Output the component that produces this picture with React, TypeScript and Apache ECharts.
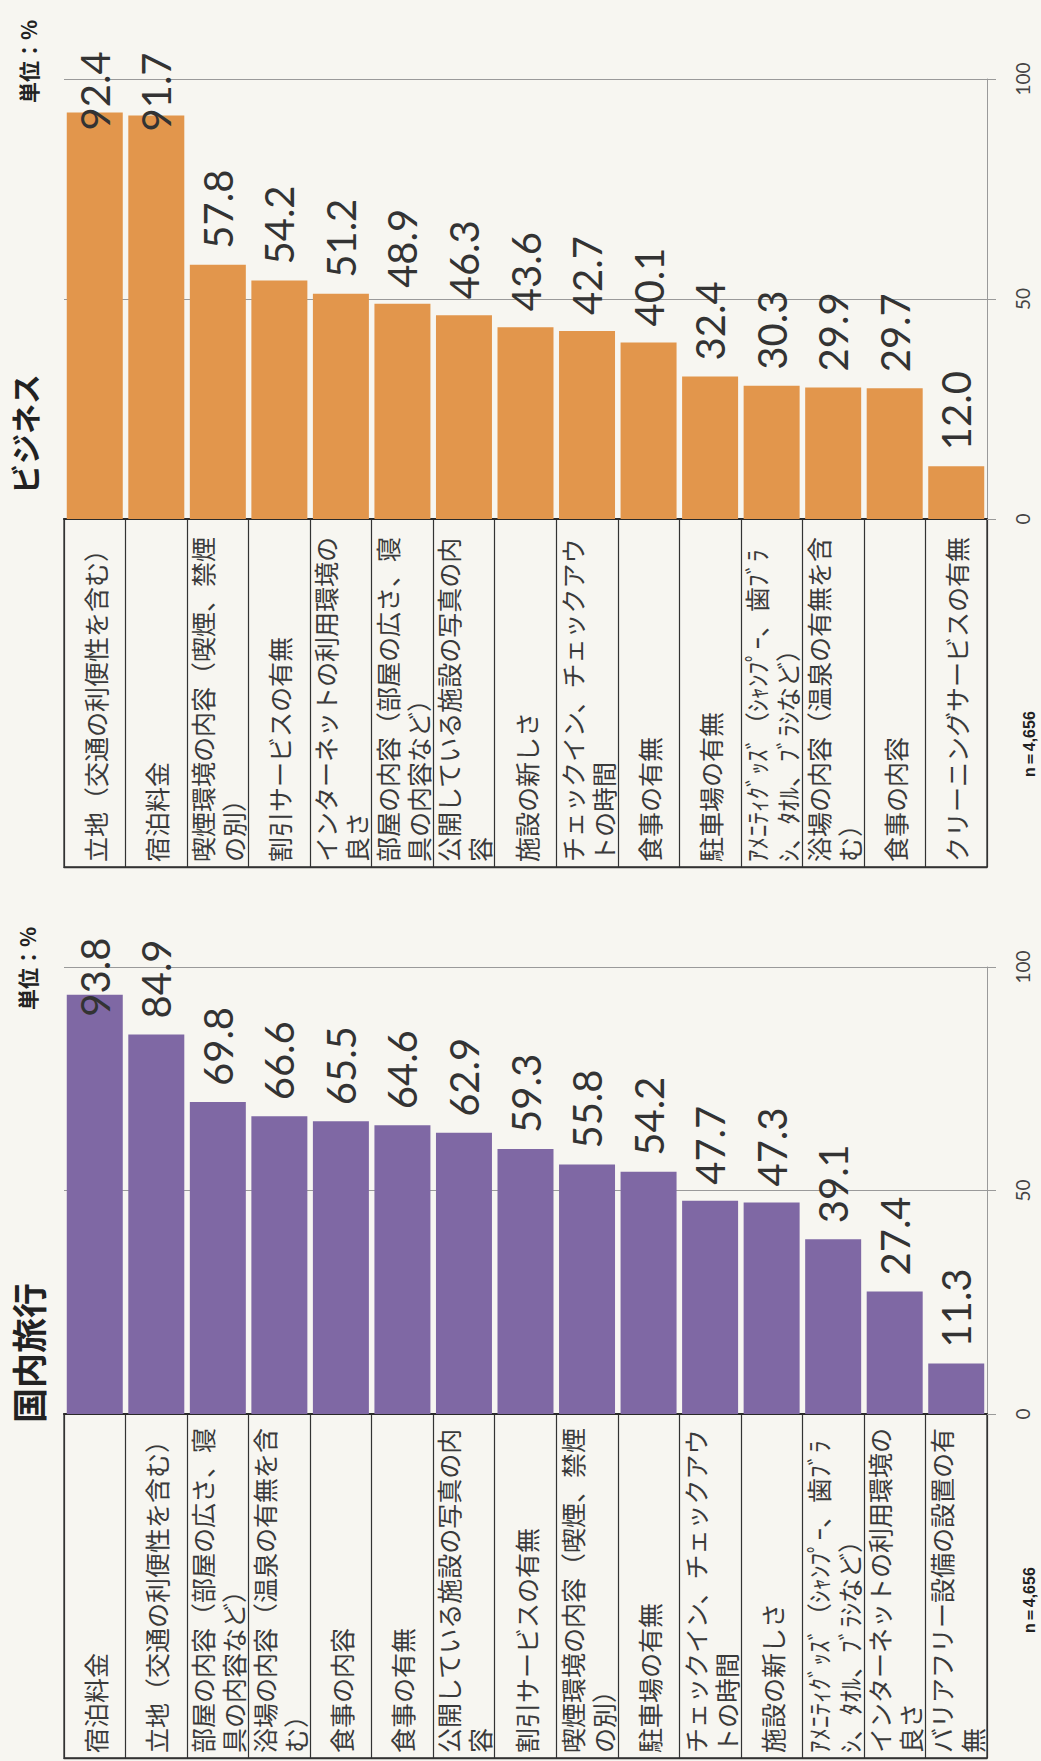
import React, { useEffect, useRef } from "react";
import * as echarts from "echarts";

// ---- data ----
const businessCategories = [
  "立地（交通の利便性を含む）",
  "宿泊料金",
  "喫煙環境の内容（喫煙、禁煙\nの別）",
  "割引サービスの有無",
  "インターネットの利用環境の\n良さ",
  "部屋の内容（部屋の広さ、寝\n具の内容など）",
  "公開している施設の写真の内\n容",
  "施設の新しさ",
  "チェックイン、チェックアウ\nトの時間",
  "食事の有無",
  "駐車場の有無",
  "ｱﾒﾆﾃｨｸﾞｯｽﾞ（ｼｬﾝﾌﾟｰ、歯ﾌﾞﾗ\nｼ、ﾀｵﾙ、ﾌﾞﾗｼなど）",
  "浴場の内容（温泉の有無を含\nむ）",
  "食事の内容",
  "クリーニングサービスの有無",
];
const businessValues = [92.4, 91.7, 57.8, 54.2, 51.2, 48.9, 46.3, 43.6, 42.7, 40.1, 32.4, 30.3, 29.9, 29.7, 12.0];

const domesticCategories = [
  "宿泊料金",
  "立地（交通の利便性を含む）",
  "部屋の内容（部屋の広さ、寝\n具の内容など）",
  "浴場の内容（温泉の有無を含\nむ）",
  "食事の内容",
  "食事の有無",
  "公開している施設の写真の内\n容",
  "割引サービスの有無",
  "喫煙環境の内容（喫煙、禁煙\nの別）",
  "駐車場の有無",
  "チェックイン、チェックアウ\nトの時間",
  "施設の新しさ",
  "ｱﾒﾆﾃｨｸﾞｯｽﾞ（ｼｬﾝﾌﾟｰ、歯ﾌﾞﾗ\nｼ、ﾀｵﾙ、ﾌﾞﾗｼなど）",
  "インターネットの利用環境の\n良さ",
  "バリアフリー設備の設置の有\n無",
];
const domesticValues = [93.8, 84.9, 69.8, 66.6, 65.5, 64.6, 62.9, 59.3, 55.8, 54.2, 47.7, 47.3, 39.1, 27.4, 11.3];

const valueAxisMin = 0;
const valueAxisMax = 100;
const valueAxisInterval = 50;

const businessTitle = "ビジネス";
const domesticTitle = "国内旅行";
const unitText = "単位：%";
const sampleText = "n＝4,656";

// ---- styles ----
const ORANGE = "#E2964C";
const PURPLE = "#7F68A4";
const BG = "#F7F6F1";
const INK = "#333333";
const GRID_GRAY = "#9a9a9a";
const CJK = "'Noto Sans CJK JP', 'Noto Sans CJK SC', sans-serif";
const NUM = "Lato, 'Open Sans', sans-serif";

// label distances for the top bars whose labels are pushed down (style only)
const businessLabelDistance: Record<number, number> = { 0: -18, 1: -16 };
const domesticLabelDistance: Record<number, number> = { 0: -22 };

function barData(values: number[], dist: Record<number, number>) {
  return values.map((v, i) =>
    dist[i] !== undefined ? { value: v, label: { distance: dist[i] } } : v
  );
}

function buildOption() {
  const panels = [
    { top: 79, height: 440, tableH: 348, cats: businessCategories, values: businessValues, color: ORANGE, dist: businessLabelDistance },
    { top: 967, height: 447, tableH: 344, cats: domesticCategories, values: domesticValues, color: PURPLE, dist: domesticLabelDistance },
  ];
  const left = 64;
  const width = 923;
  const grid: any[] = [];
  const xAxis: any[] = [];
  const yAxis: any[] = [];
  const series: any[] = [];

  panels.forEach((p, k) => {
    const gBar = k * 2;
    const gTab = k * 2 + 1;
    grid.push({ left, width, top: p.top, height: p.height, show: false });
    grid.push({
      left, width, top: p.top + p.height, height: p.tableH,
      show: true, borderColor: INK, borderWidth: 1.3, backgroundColor: "transparent",
    });
    xAxis.push({
      type: "category", gridIndex: gBar, data: p.cats,
      axisLine: { show: true, lineStyle: { color: "#2a2a2a", width: 2 } },
      axisTick: { show: false }, axisLabel: { show: false }, splitLine: { show: false },
    });
    xAxis.push({
      type: "category", gridIndex: gTab, data: p.cats, position: "bottom",
      axisLine: { show: true, lineStyle: { color: INK, width: 1.3 } },
      axisTick: { show: false },
      splitLine: { show: true, interval: 0, lineStyle: { color: INK, width: 1.2 } },
      axisLabel: {
        show: true, inside: true, rotate: 90, interval: 0, margin: 5,
        align: "left", verticalAlign: "middle",
        fontSize: 25, lineHeight: 31, color: "#3a3a3a", fontFamily: CJK,
      },
    });
    yAxis.push({
      type: "value", gridIndex: gBar, position: "right",
      min: valueAxisMin, max: valueAxisMax, interval: valueAxisInterval,
      axisLine: { show: true, lineStyle: { color: GRID_GRAY, width: 1 } },
      axisTick: { show: true, length: 9, lineStyle: { color: GRID_GRAY } },
      splitLine: { show: true, lineStyle: { color: GRID_GRAY, width: 1 } },
      axisLabel: { rotate: 90, margin: 26, fontSize: 19, color: "#444", fontFamily: NUM },
    });
    yAxis.push({ type: "value", gridIndex: gTab, min: 0, max: 1, show: false });
    series.push({
      type: "bar", xAxisIndex: gBar, yAxisIndex: gBar,
      data: barData(p.values, p.dist),
      barCategoryGap: "9%",
      itemStyle: { color: p.color },
      label: {
        show: true, position: "top", rotate: 90, align: "left", verticalAlign: "middle",
        distance: 16, fontSize: 40, color: INK, fontFamily: NUM,
        formatter: (q: any) => Number(q.value).toFixed(1),
      },
    });
  });

  const vText = (text: string, x: number, y: number, fontSize: number, family: string, weight = "bold") => ({
    type: "text", x, y, rotation: Math.PI / 2,
    style: { text, fontSize, fontWeight: weight, fontFamily: family, fill: "#222", align: "left", verticalAlign: "middle" },
  });

  const graphic = [
    vText(unitText, 28, 103, 21, CJK),
    vText(businessTitle, 24, 494, 30, CJK),
    vText(sampleText, 1029, 777, 16, "'Liberation Sans', Arial, sans-serif"),
    vText(unitText, 27, 1010, 21, CJK),
    vText(domesticTitle, 27, 1423, 35, CJK),
    vText(sampleText, 1029, 1633, 16, "'Liberation Sans', Arial, sans-serif"),
  ];

  return { animation: false, backgroundColor: BG, grid, xAxis, yAxis, series, graphic };
}

export default function App() {
  const ref = useRef<HTMLDivElement>(null);
  useEffect(() => {
    document.body.style.margin = "0";
    if (!ref.current) return;
    const chart = echarts.init(ref.current, undefined, { renderer: "svg" });
    chart.setOption(buildOption() as any);
    return () => chart.dispose();
  }, []);
  return <div ref={ref} style={{ width: 1041, height: 1761 }} />;
}
